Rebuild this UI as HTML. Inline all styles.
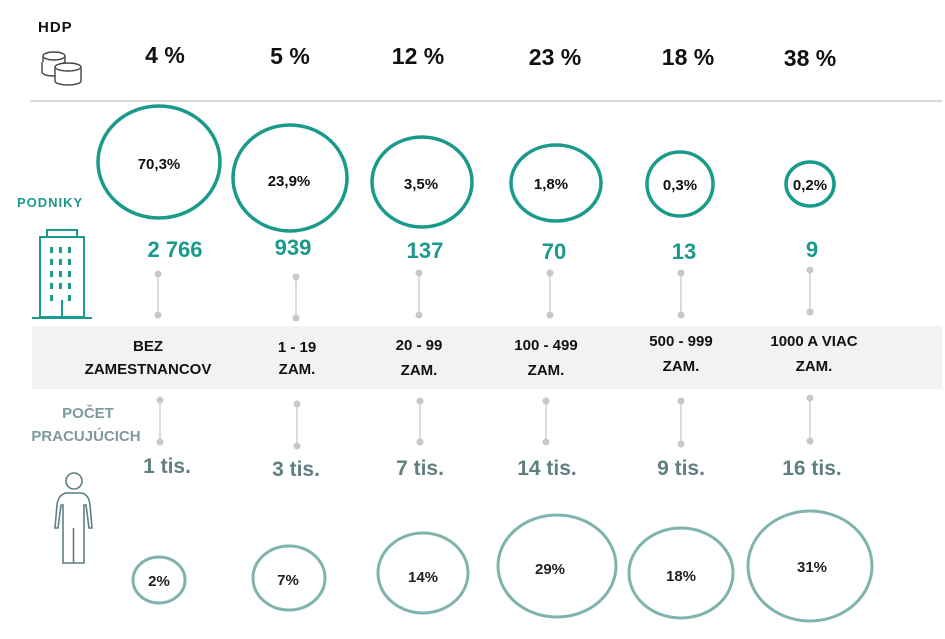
<!DOCTYPE html>
<html><head><meta charset="utf-8"><style>
html,body{margin:0;padding:0;background:#fff;}
svg{display:block;}
text{font-family:"Liberation Sans",sans-serif;font-weight:bold;}
</style></head><body>
<svg width="945" height="639" viewBox="0 0 945 639" xmlns="http://www.w3.org/2000/svg">
<!-- HDP -->
<text x="38" y="32" font-size="15" fill="#111" letter-spacing="1">HDP</text>
<g fill="#fff" stroke="#444" stroke-width="1.4">
<path d="M43 56v5a11 4 0 0 0 22 0v-5"/><ellipse cx="54" cy="56" rx="11" ry="4"/>
<path d="M42 62v5a11 4 0 0 0 22 0v-5"/><path d="M42 67v5a11 4 0 0 0 22 0v-5"/>
<path d="M55 67v5a13 4 0 0 0 26 0v-5"/><ellipse cx="68" cy="67" rx="13" ry="4"/>
<path d="M55 72v5a13 4 0 0 0 26 0v-5"/><path d="M55 77v4a13 4 0 0 0 26 0v-4"/>
</g>
<g font-size="23" fill="#111" text-anchor="middle">
<text x="165" y="63">4 %</text><text x="290" y="64">5 %</text><text x="418" y="64">12 %</text>
<text x="555" y="65">23 %</text><text x="688" y="65">18 %</text><text x="810" y="66">38 %</text>
</g>
<line x1="30" y1="101" x2="942" y2="101" stroke="#ccc" stroke-width="1.5"/>
<!-- PODNIKY -->
<text x="17" y="207" font-size="13" fill="#1a9a8c" letter-spacing="1">PODNIKY</text>
<g fill="none" stroke="#1a9a8c" stroke-width="2">
<rect x="40" y="237" width="44" height="80"/><rect x="47" y="230" width="30" height="7"/>
<line x1="32" y1="318" x2="92" y2="318"/><line x1="62" y1="300" x2="62" y2="318"/>
</g>
<g fill="#1a9a8c">
<rect x="50" y="247" width="3" height="6"/><rect x="59" y="247" width="3" height="6"/><rect x="68" y="247" width="3" height="6"/>
<rect x="50" y="259" width="3" height="6"/><rect x="59" y="259" width="3" height="6"/><rect x="68" y="259" width="3" height="6"/>
<rect x="50" y="271" width="3" height="6"/><rect x="59" y="271" width="3" height="6"/><rect x="68" y="271" width="3" height="6"/>
<rect x="50" y="283" width="3" height="6"/><rect x="59" y="283" width="3" height="6"/><rect x="68" y="283" width="3" height="6"/>
<rect x="50" y="295" width="3" height="6"/><rect x="68" y="295" width="3" height="6"/>
</g>
<g fill="none" stroke="#1a9a8c" stroke-width="3.5">
<ellipse cx="159" cy="162" rx="61" ry="56"/>
<ellipse cx="290" cy="178" rx="57" ry="53"/>
<ellipse cx="422" cy="182" rx="50" ry="45"/>
<ellipse cx="556" cy="183" rx="45" ry="38"/>
<ellipse cx="680" cy="184" rx="33" ry="32"/>
<ellipse cx="810" cy="184" rx="24" ry="22"/>
</g>
<g font-size="15" fill="#111" text-anchor="middle">
<text x="159" y="169">70,3%</text><text x="289" y="186">23,9%</text><text x="421" y="189">3,5%</text>
<text x="551" y="189">1,8%</text><text x="680" y="190">0,3%</text><text x="810" y="190">0,2%</text>
</g>
<g font-size="22" fill="#1a9a8c" text-anchor="middle">
<text x="175" y="257">2 766</text><text x="293" y="255">939</text><text x="425" y="258">137</text>
<text x="554" y="259">70</text><text x="684" y="259">13</text><text x="812" y="257">9</text>
</g>
<!-- dots -->
<g stroke="#ddd" stroke-width="2">
<line x1="158" y1="274" x2="158" y2="315"/><line x1="296" y1="277" x2="296" y2="318"/>
<line x1="419" y1="273" x2="419" y2="315"/><line x1="550" y1="273" x2="550" y2="315"/>
<line x1="681" y1="273" x2="681" y2="315"/><line x1="810" y1="270" x2="810" y2="312"/>
<line x1="160" y1="400" x2="160" y2="442"/><line x1="297" y1="404" x2="297" y2="446"/>
<line x1="420" y1="401" x2="420" y2="442"/><line x1="546" y1="401" x2="546" y2="442"/>
<line x1="681" y1="401" x2="681" y2="444"/><line x1="810" y1="398" x2="810" y2="441"/>
</g>
<g fill="#c8c8c8">
<circle cx="158" cy="274" r="3.5"/><circle cx="158" cy="315" r="3.5"/><circle cx="296" cy="277" r="3.5"/><circle cx="296" cy="318" r="3.5"/>
<circle cx="419" cy="273" r="3.5"/><circle cx="419" cy="315" r="3.5"/><circle cx="550" cy="273" r="3.5"/><circle cx="550" cy="315" r="3.5"/>
<circle cx="681" cy="273" r="3.5"/><circle cx="681" cy="315" r="3.5"/><circle cx="810" cy="270" r="3.5"/><circle cx="810" cy="312" r="3.5"/>
<circle cx="160" cy="400" r="3.5"/><circle cx="160" cy="442" r="3.5"/><circle cx="297" cy="404" r="3.5"/><circle cx="297" cy="446" r="3.5"/>
<circle cx="420" cy="401" r="3.5"/><circle cx="420" cy="442" r="3.5"/><circle cx="546" cy="401" r="3.5"/><circle cx="546" cy="442" r="3.5"/>
<circle cx="681" cy="401" r="3.5"/><circle cx="681" cy="444" r="3.5"/><circle cx="810" cy="398" r="3.5"/><circle cx="810" cy="441" r="3.5"/>
</g>
<!-- band -->
<rect x="32" y="326" width="910" height="63" fill="#f2f2f2"/>
<g font-size="15" fill="#111" text-anchor="middle">
<text x="148" y="351">BEZ</text><text x="148" y="374">ZAMESTNANCOV</text>
<text x="297" y="352">1 - 19</text><text x="297" y="374">ZAM.</text>
<text x="419" y="350">20 - 99</text><text x="419" y="375">ZAM.</text>
<text x="546" y="350">100 - 499</text><text x="546" y="375">ZAM.</text>
<text x="681" y="346">500 - 999</text><text x="681" y="371">ZAM.</text>
<text x="814" y="346">1000 A VIAC</text><text x="814" y="371">ZAM.</text>
</g>
<g font-size="15" fill="#7f9a9a" text-anchor="middle">
<text x="88" y="418">POČET</text><text x="86" y="441">PRACUJÚCICH</text>
</g>
<g font-size="21" fill="#5f7f80" text-anchor="middle">
<text x="167" y="473">1 tis.</text><text x="296" y="476">3 tis.</text><text x="420" y="475">7 tis.</text>
<text x="547" y="475">14 tis.</text><text x="681" y="475">9 tis.</text><text x="812" y="475">16 tis.</text>
</g>
<!-- person -->
<g fill="none" stroke="#5f7f80" stroke-width="1.6">
<circle cx="74" cy="481" r="8"/>
<path d="M66 493 Q58 495 57 505 L55 528 L58 528 L61 505 L63 505 L63 563 L84 563 L84 505 L86 505 L89 528 L92 528 L90 505 Q89 495 82 493 Z"/>
<line x1="73.5" y1="528" x2="73.5" y2="563"/>
</g>
<!-- bottom circles -->
<g fill="none" stroke="#7fb3ae" stroke-width="3">
<ellipse cx="159" cy="580" rx="26" ry="23"/>
<ellipse cx="289" cy="578" rx="36" ry="32"/>
<ellipse cx="423" cy="573" rx="45" ry="40"/>
<ellipse cx="557" cy="566" rx="59" ry="51"/>
<ellipse cx="681" cy="573" rx="52" ry="45"/>
<ellipse cx="810" cy="566" rx="62" ry="55"/>
</g>
<g font-size="15" fill="#222" text-anchor="middle">
<text x="159" y="586">2%</text><text x="288" y="585">7%</text><text x="423" y="582">14%</text>
<text x="550" y="574">29%</text><text x="681" y="581">18%</text><text x="812" y="572">31%</text>
</g>
</svg>
</body></html>
